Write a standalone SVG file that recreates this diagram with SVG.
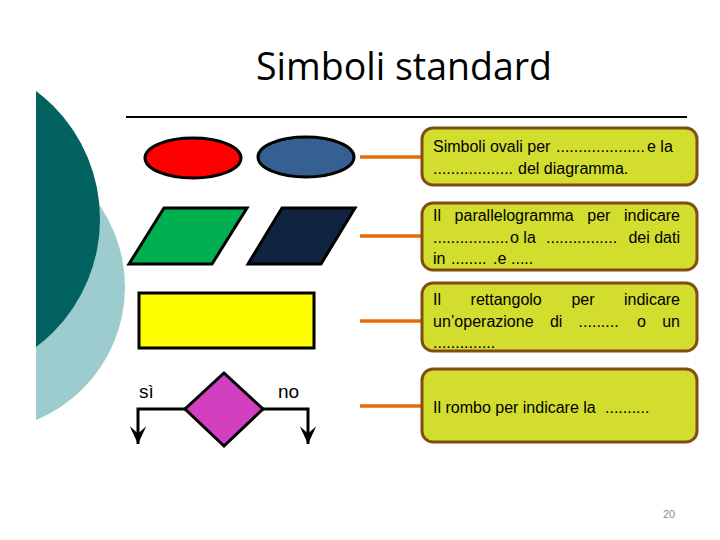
<svg xmlns="http://www.w3.org/2000/svg" width="720" height="540" viewBox="0 0 720 540">
<defs>
<style>
.shape{stroke:#000;stroke-width:3;stroke-linejoin:miter}
.conn{stroke:#E46C0A;stroke-width:3.5;fill:none}
.flow{stroke:#000;stroke-width:3;fill:none}
.box{fill:#D2DD2E;stroke:#7F4F12;stroke-width:3}
.bt{font-family:"Liberation Sans",Arial,sans-serif;font-size:16px;fill:#000}
.lbl{font-family:"Liberation Sans",Arial,sans-serif;font-size:19px;fill:#000}
</style>
<clipPath id="deco"><rect x="36" y="0" width="200" height="540"/></clipPath>
<marker id="ah" markerUnits="userSpaceOnUse" markerWidth="20" markerHeight="20" viewBox="-16 -8 17 16" refX="0" refY="0" orient="auto">
<path d="M0,0 L-15,-7 L-9,0 L-15,7 z" fill="#000"/>
</marker>
</defs>
<rect width="720" height="540" fill="#fff"/>
<g id="decoration" clip-path="url(#deco)">
<circle cx="-19" cy="287" r="144" fill="#9CCCCE"/>
<circle cx="-60" cy="219" r="160" fill="#02625F"/>
</g>
<g id="title">
<text x="404" y="80" text-anchor="middle" font-family="'Open Sans','Liberation Sans',sans-serif" font-size="38" textLength="296" lengthAdjust="spacingAndGlyphs" fill="#000">Simboli standard</text>
<line x1="126" y1="117" x2="687" y2="117" stroke="#000" stroke-width="2"/>
</g>
<g id="ovale-rosso"><ellipse class="shape" cx="193" cy="158" rx="48" ry="20" fill="#FF0000"/></g>
<g id="ovale-blu"><ellipse class="shape" cx="306" cy="157" rx="48" ry="20" fill="#376092"/></g>
<g id="parallelogramma-verde"><polygon class="shape" points="164,208 247,208 212,264 129,264" fill="#00B050"/></g>
<g id="parallelogramma-blu"><polygon class="shape" points="282,208 355,208 321,264 248,264" fill="#10243F"/></g>
<g id="rettangolo"><rect class="shape" x="139" y="293" width="175" height="55" fill="#FFFF00"/></g>
<g id="rombo">
<polygon class="shape" points="224,373 263,409 224,446 185,409" fill="#D23FBE"/>
<text class="lbl" x="139" y="398">sì</text>
<text class="lbl" x="278" y="398">no</text>
</g>
<g id="connectors">
<line class="conn" x1="360" y1="157" x2="423" y2="157"/>
<line class="conn" x1="360" y1="236" x2="423" y2="236"/>
<line class="conn" x1="360" y1="321" x2="423" y2="321"/>
<line class="conn" x1="360" y1="406" x2="423" y2="406"/>
<polyline class="flow" points="185,409 138,409 138,444" marker-end="url(#ah)"/>
<polyline class="flow" points="263,409 308,409 308,444" marker-end="url(#ah)"/>
</g>
<g id="box-ovali">
<rect class="box" x="422" y="128" width="275" height="57" rx="11"/>
<text class="bt" y="152"><tspan x="433">Simboli ovali per </tspan><tspan x="556">....................</tspan><tspan x="647">e la</tspan></text>
<text class="bt" y="174"><tspan x="433">..................</tspan><tspan x="518">del diagramma.</tspan></text>
</g>
<g id="box-parallelogramma">
<rect class="box" x="422" y="203" width="275" height="67" rx="11"/>
<text class="bt" y="221"><tspan x="433">Il</tspan><tspan x="454.6">parallelogramma</tspan><tspan x="587.3">per</tspan><tspan x="680" text-anchor="end">indicare</tspan></text>
<text class="bt" y="243"><tspan x="433">.................</tspan><tspan x="510">o la</tspan><tspan x="546">................</tspan><tspan x="680" text-anchor="end">dei dati</tspan></text>
<text class="bt" y="264"><tspan x="433">in</tspan><tspan x="451">........</tspan><tspan x="493">.e</tspan><tspan x="511">.....</tspan></text>
</g>
<g id="box-rettangolo">
<rect class="box" x="422" y="283" width="275" height="68" rx="11"/>
<text class="bt" y="305"><tspan x="433">Il</tspan><tspan x="470.6">rettangolo</tspan><tspan x="571.4">per</tspan><tspan x="680" text-anchor="end">indicare</tspan></text>
<text class="bt" y="327"><tspan x="433">un’operazione</tspan><tspan x="549.9">di</tspan><tspan x="578.6">.........</tspan><tspan x="637">o</tspan><tspan x="680" text-anchor="end">un</tspan></text>
<text class="bt" y="348"><tspan x="433">..............</tspan></text>
</g>
<g id="box-rombo">
<rect class="box" x="422" y="369" width="275" height="73" rx="11"/>
<text class="bt" y="413"><tspan x="433">Il rombo per indicare la </tspan><tspan x="605">..........</tspan></text>
</g>
<text x="663" y="518" font-family="'Liberation Sans',Arial,sans-serif" font-size="11" fill="#8C8C8C">20</text>
</svg>
